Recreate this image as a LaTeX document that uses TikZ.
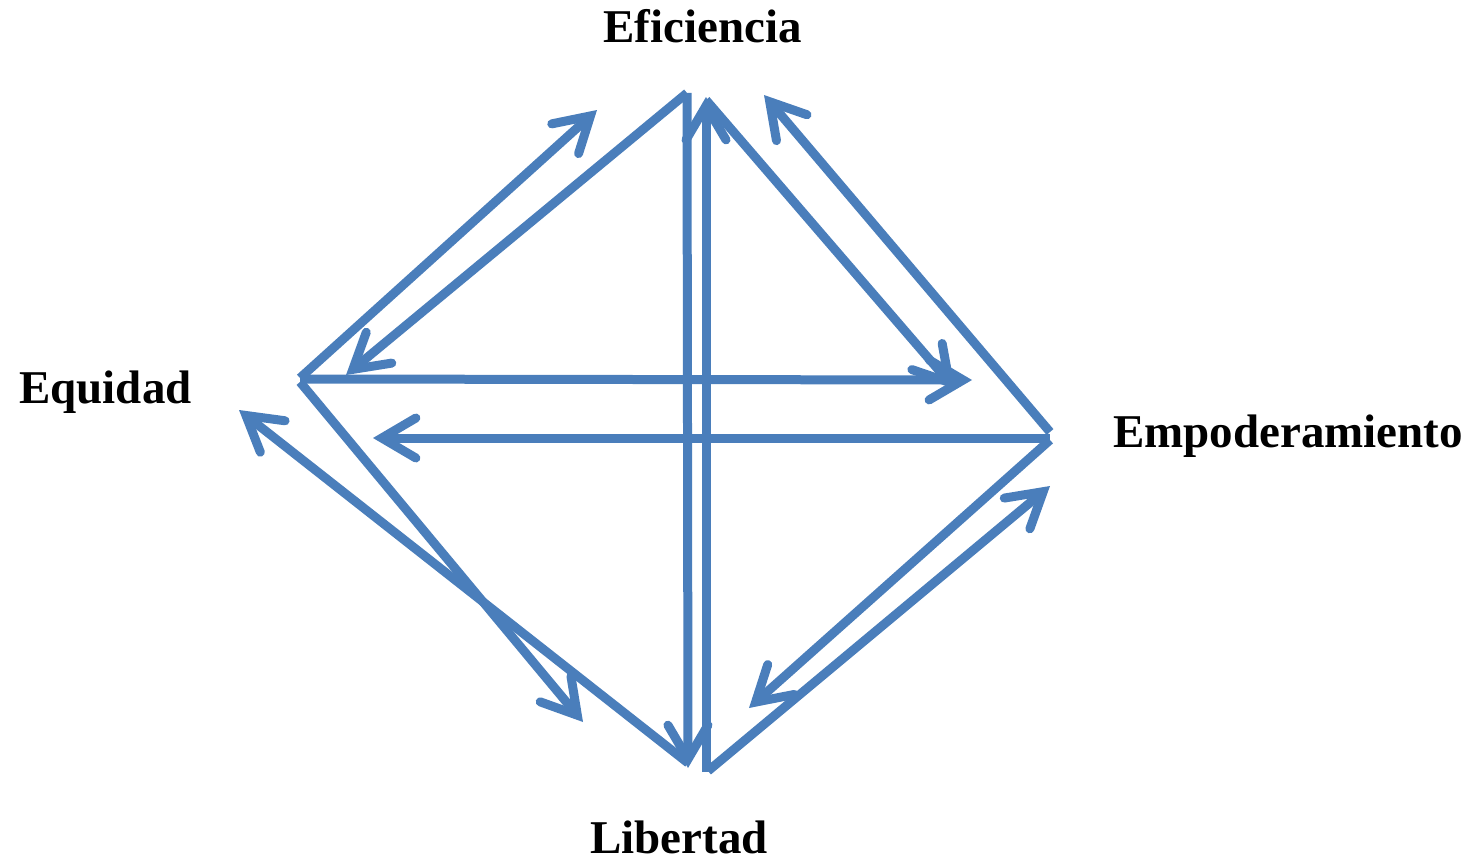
\documentclass[tikz,border=0pt]{standalone}
\usepackage{fontspec}
\setmainfont{Liberation Serif}
\usetikzlibrary{arrows.meta}
\definecolor{arrowblue}{RGB}{74,126,187}
\tikzset{
  lbl/.style={anchor=base west, inner sep=0pt, font=\fontsize{47}{56}\selectfont\bfseries},
  conn/.style={draw=arrowblue, line width=9pt,
    -{Straight Barb[length=34pt,width=40pt,line cap=round,line join=miter]}}
}
\begin{document}
\begin{tikzpicture}[x=1pt,y=-1pt]
\useasboundingbox (0,0) rectangle (1471,859);
% labels
\node[lbl] (efi) at (603,43) {Eficiencia};
\node[lbl] (equ) at (19,403) {Equidad};
\node[lbl] (emp) at (1113,447) {Empoderamiento};
\node[lbl] (lib) at (590,853) {Libertad};
% endpoints
\coordinate (eqA) at (300,378);
\coordinate (eqB) at (300,379);
\coordinate (eqC) at (300,382);
\coordinate (efL) at (687,93);
\coordinate (efR) at (706,100);
\coordinate (emA) at (1050,432);
\coordinate (emB) at (1050,438);
\coordinate (emC) at (1050,440);
\coordinate (liL) at (688,763);
\coordinate (liR) at (706,772);
\coordinate (liS) at (708,771);
\coordinate (t1) at (597,110);
\coordinate (t2) at (346,375);
\coordinate (t3) at (972,380);
\coordinate (t4) at (373,438);
\coordinate (t5) at (955,389);
\coordinate (t6) at (764,95);
\coordinate (t7) at (688,768);
\coordinate (t8) at (706,97);
\coordinate (t9) at (583,722);
\coordinate (t10) at (239,410);
\coordinate (t11) at (1050,486);
\coordinate (t12) at (749,708);
% connectors
\draw[conn] (eqA) -- (t1);
\draw[conn] (efL) -- (t2);
\draw[conn] (eqB) -- (t3);
\draw[conn] (emB) -- (t4);
\draw[conn] (efR) -- (t5);
\draw[conn] (emA) -- (t6);
\draw[conn] (efL) -- (t7);
\draw[conn] (liR) -- (t8);
\draw[conn] (eqC) -- (t9);
\draw[conn] (liL) -- (t10);
\draw[conn] (liS) -- (t11);
\draw[conn] (emC) -- (t12);
\end{tikzpicture}
\end{document}
